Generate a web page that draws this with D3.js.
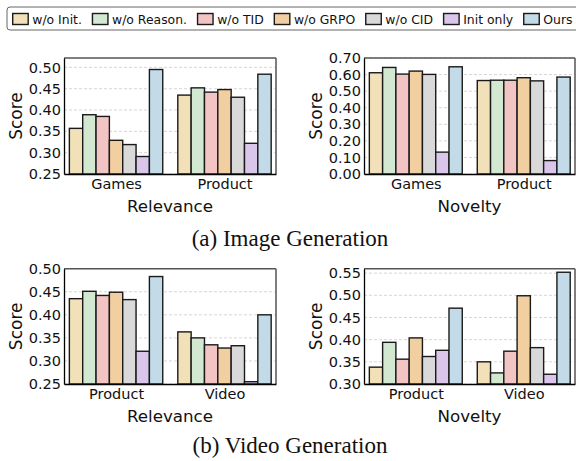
<!DOCTYPE html>
<html>
<head>
<meta charset="utf-8">
<script src="https://cdn.jsdelivr.net/npm/d3@7"></script>
<style>
  body { margin: 0; background: #fff; }
  svg { display: block; font-family: "DejaVu Sans", sans-serif; }
</style>
</head>
<body>
<svg id="chart" width="576" height="461"></svg>
<script>
// Methods and colours
const methods = ['w/o Init.', 'w/o Reason.', 'w/o TID', 'w/o GRPO', 'w/o CID', 'Init only', 'Ours'];
const colors = ['#F2E1B8', '#D3E8D1', '#F2C4C4', '#F1CFA0', '#D9D9D9', '#D9C6EA', '#C3DBE8'];

// (a) Image Generation
const imageCats = ['Games', 'Product'];
const imageRelevance = [
    [0.357, 0.389, 0.385, 0.329, 0.319, 0.291, 0.495],
    [0.435, 0.452, 0.442, 0.448, 0.430, 0.322, 0.484]
];
const imageRelTicks = [0.25, 0.30, 0.35, 0.40, 0.45, 0.50];
const imageNovelty = [
    [0.611, 0.643, 0.603, 0.621, 0.601, 0.132, 0.647],
    [0.564, 0.566, 0.566, 0.581, 0.562, 0.081, 0.585]
];
const imageNovTicks = [0.00, 0.10, 0.20, 0.30, 0.40, 0.50, 0.60, 0.70];

// (b) Video Generation
const videoCats = ['Product', 'Video'];
const videoRelevance = [
    [0.435, 0.451, 0.442, 0.449, 0.433, 0.321, 0.483],
    [0.363, 0.350, 0.335, 0.328, 0.333, 0.255, 0.400]
];
const videoRelTicks = [0.25, 0.30, 0.35, 0.40, 0.45, 0.50];
const videoNovelty = [
    [0.338, 0.394, 0.356, 0.404, 0.362, 0.376, 0.471],
    [0.350, 0.325, 0.374, 0.499, 0.382, 0.322, 0.552]
];
const videoNovTicks = [0.30, 0.35, 0.40, 0.45, 0.50, 0.55];

const svg = d3.select('#chart');
const barW = 0.123;

function drawPanel(p) {
    const x = d3.scaleLinear().domain([-0.48, 1.475]).range([p.left, p.right]);
    const y = d3.scaleLinear().domain(p.yDomain).range([p.bottom, p.top]);
    const g = svg.append('g');

    // dashed grid
    g.selectAll('line.grid')
        .data(p.ticks)
        .enter()
        .append('line')
        .attr('x1', p.left).attr('x2', p.right)
        .attr('y1', d => y(d)).attr('y2', d => y(d))
        .attr('stroke', '#cccccc')
        .attr('stroke-width', 0.8)
        .attr('stroke-dasharray', '3,2');

    // bars
    p.values.forEach((vals, gi) => {
        g.selectAll(null)
            .data(vals)
            .enter()
            .append('rect')
            .attr('x', (d, i) => x(gi + (i - 3) * barW - barW / 2))
            .attr('width', x(barW) - x(0))
            .attr('y', d => y(d))
            .attr('height', d => p.bottom - y(d))
            .attr('fill', (d, i) => colors[i])
            .attr('stroke', '#1a1a1a')
            .attr('stroke-width', 1.4);
    });

    // spines
    g.append('line').attr('x1', p.left).attr('x2', p.right).attr('y1', p.top).attr('y2', p.top)
        .attr('stroke', '#555').attr('stroke-width', 1.5);
    g.append('line').attr('x1', p.right).attr('x2', p.right).attr('y1', p.top).attr('y2', p.bottom)
        .attr('stroke', '#555').attr('stroke-width', 1.5);

    const yAxis = g.append('g')
        .attr('transform', `translate(${p.left},0)`)
        .call(d3.axisLeft(y).tickValues(p.ticks).tickFormat(d3.format('.2f')).tickSize(0).tickPadding(3));
    yAxis.select('.domain').attr('stroke', '#000').attr('stroke-width', 1.3);
    yAxis.selectAll('text').attr('font-size', 14.5).attr('fill', '#111').attr('font-family', 'DejaVu Sans');

    const xAxis = g.append('g')
        .attr('transform', `translate(0,${p.bottom})`)
        .call(d3.axisBottom(x).tickValues([0, 1]).tickFormat(i => p.cats[i]).tickSize(0).tickPadding(4.7));
    xAxis.select('.domain').attr('stroke', '#000').attr('stroke-width', 1.3);
    xAxis.selectAll('text').attr('font-size', 14.5).attr('fill', '#111').attr('font-family', 'DejaVu Sans');

    // axis titles
    g.append('text')
        .attr('x', (p.left + p.right) / 2)
        .attr('y', p.bottom + 37.5)
        .attr('text-anchor', 'middle')
        .attr('font-size', 16.7)
        .attr('fill', '#111')
        .text(p.xlabel);
    g.append('text')
        .attr('transform', `translate(${p.scoreX},${(p.top + p.bottom) / 2}) rotate(-90)`)
        .attr('text-anchor', 'middle')
        .attr('font-size', 17)
        .attr('fill', '#111')
        .text('Score');
}

drawPanel({ left: 64, right: 276, top: 58, bottom: 174, cats: imageCats, values: imageRelevance,
    yDomain: [0.25, 0.522], ticks: imageRelTicks, xlabel: 'Relevance', scoreX: 22 });
drawPanel({ left: 364, right: 575, top: 58, bottom: 174, cats: imageCats, values: imageNovelty,
    yDomain: [0, 0.70], ticks: imageNovTicks, xlabel: 'Novelty', scoreX: 322 });
drawPanel({ left: 64, right: 276, top: 268.7, bottom: 384, cats: videoCats, values: videoRelevance,
    yDomain: [0.25, 0.50], ticks: videoRelTicks, xlabel: 'Relevance', scoreX: 22 });
drawPanel({ left: 364, right: 575, top: 268.7, bottom: 384, cats: videoCats, values: videoNovelty,
    yDomain: [0.30, 0.56], ticks: videoNovTicks, xlabel: 'Novelty', scoreX: 322 });

// captions
svg.append('text').attr('x', 290).attr('y', 246).attr('text-anchor', 'middle')
    .attr('font-family', '"Liberation Serif", serif').attr('font-size', 23).attr('fill', '#111')
    .text('(a) Image Generation');
svg.append('text').attr('x', 290).attr('y', 453).attr('text-anchor', 'middle')
    .attr('font-family', '"Liberation Serif", serif').attr('font-size', 23).attr('fill', '#111')
    .text('(b) Video Generation');

// legend: measure labels first, then spread items so the last one ends near the right edge
const legend = svg.append('g');
legend.append('rect')
    .attr('x', 7).attr('y', 7).attr('width', 580).attr('height', 23)
    .attr('rx', 3).attr('fill', '#fff').attr('stroke', '#666').attr('stroke-width', 1);
const labels = methods.map(m => legend.append('text')
    .attr('y', 24).attr('font-size', 12.4).attr('fill', '#111').text(m));
const widths = labels.map(t => t.node().getComputedTextLength());
const used = d3.sum(widths) + methods.length * 19.6;
const gap = Math.max(4, (572.5 - 12.7 - used) / (methods.length - 1));
let lx = 12.7;
methods.forEach((m, i) => {
    legend.append('rect')
        .attr('x', lx).attr('y', 13.5).attr('width', 15.5).attr('height', 11)
        .attr('fill', colors[i]).attr('stroke', '#1a1a1a').attr('stroke-width', 1.4);
    labels[i].attr('x', lx + 19.6);
    lx = lx + 19.6 + widths[i] + gap;
});
</script>
</body>
</html>
